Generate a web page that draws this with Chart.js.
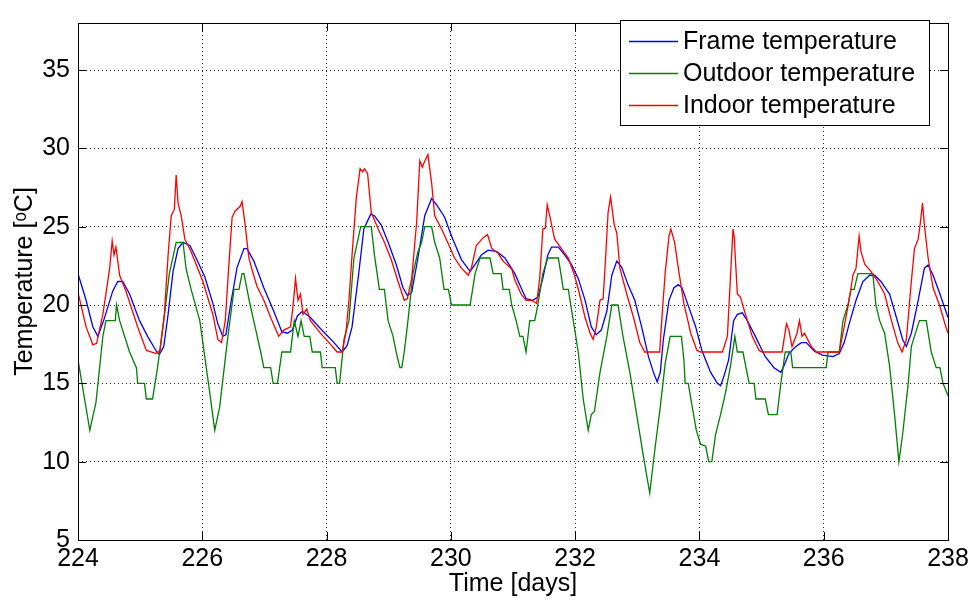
<!DOCTYPE html>
<html lang="en">
<head>
    <meta charset="UTF-8">
    <title>Temperatures</title>
    <script src="https://cdn.jsdelivr.net/npm/chart.js"></script>
    <style>
        html, body { margin: 0; padding: 0; background: #fff; }
        #box { position: relative; width: 974px; height: 602px; }
    </style>
</head>
<body>
    <div id="box"><canvas id="myChart" width="974" height="602"></canvas></div>
</body>
</html>
<script>
// tick labels
var xTicks = [224, 226, 228, 230, 232, 234, 236, 238];
var yTicks = [5, 10, 15, 20, 25, 30, 35];

var seriesNames = ['Frame temperature', 'Outdoor temperature', 'Indoor temperature'];

// Frame temperature (blue)
var frameDays = [224.00, 224.13, 224.24, 224.32, 224.42, 224.56, 224.64, 224.72, 224.83, 224.99,
  225.12, 225.26, 225.31, 225.38, 225.45, 225.53, 225.61, 225.69, 225.80, 225.90,
  226.04, 226.17, 226.25, 226.33, 226.38, 226.45, 226.56, 226.67, 226.72, 226.83,
  226.99, 227.15, 227.28, 227.37, 227.45, 227.53, 227.61, 227.74, 227.90, 228.12,
  228.25, 228.33, 228.41, 228.52, 228.60, 228.71, 228.77, 228.88, 228.99, 229.12,
  229.23, 229.30, 229.37, 229.47, 229.58, 229.69, 229.77, 229.90, 230.01, 230.17,
  230.31, 230.39, 230.49, 230.60, 230.74, 230.87, 231.03, 231.13, 231.21, 231.32,
  231.40, 231.48, 231.56, 231.62, 231.73, 231.83, 231.94, 232.05, 232.16, 232.26,
  232.34, 232.42, 232.51, 232.59, 232.67, 232.75, 232.85, 232.96, 233.07, 233.18,
  233.26, 233.32, 233.37, 233.42, 233.51, 233.59, 233.66, 233.72, 233.83, 233.94,
  234.04, 234.18, 234.29, 234.34, 234.39, 234.47, 234.55, 234.61, 234.69, 234.77,
  234.90, 235.06, 235.20, 235.31, 235.36, 235.44, 235.55, 235.64, 235.72, 235.85,
  235.98, 236.15, 236.25, 236.33, 236.41, 236.52, 236.63, 236.74, 236.82, 236.92,
  237.06, 237.17, 237.27, 237.33, 237.41, 237.52, 237.62, 237.68, 237.76, 237.87, 238.00];
var frameTemp = [22.0, 20.3, 18.6, 18.0, 19.1, 20.9, 21.5, 21.5, 20.7, 19.0,
  18.0, 17.05, 16.85, 17.35, 19.4, 22.15, 23.6, 24.0, 23.8, 23.0,
  21.8, 20.1, 18.8, 18.0, 18.1, 19.9, 22.4, 23.6, 23.6, 22.8,
  21.1, 19.6, 18.3, 18.2, 18.4, 19.3, 19.6, 19.2, 18.5, 17.6,
  17.0, 17.4, 18.6, 22.1, 24.85, 25.8, 25.7, 25.1, 24.0, 22.6,
  21.1, 20.6, 20.8, 23.0, 25.7, 26.8, 26.4, 25.6, 24.4, 22.9,
  22.15, 22.6, 23.2, 23.5, 23.4, 23.0, 22.0, 21.1, 20.4, 20.3,
  20.5, 21.7, 23.2, 23.7, 23.7, 23.2, 22.6, 21.7, 20.3, 18.6,
  18.1, 18.4, 19.6, 21.9, 22.8, 22.4, 21.3, 20.3, 18.6, 16.7,
  15.7, 15.1, 15.7, 17.8, 20.3, 21.1, 21.3, 21.1, 19.85, 18.6,
  17.1, 15.7, 15.0, 14.85, 15.4, 16.5, 19.0, 19.4, 19.5, 19.0,
  18.0, 16.7, 16.0, 15.7, 16.1, 16.9, 17.35, 17.6, 17.6, 17.05,
  16.8, 16.7, 16.9, 17.6, 18.8, 20.3, 21.5, 21.9, 21.9, 21.5,
  20.7, 19.2, 17.8, 17.35, 18.2, 20.3, 22.35, 22.55, 21.9, 20.7, 19.2];

// Outdoor temperature (green)
var outdoorDays = [224.00, 224.19, 224.29, 224.40, 224.45, 224.60, 224.62, 224.67, 224.75, 224.83,
  224.94, 224.96, 225.07, 225.10, 225.20, 225.28, 225.38, 225.47, 225.58, 225.69,
  225.74, 225.82, 225.96, 226.04, 226.12, 226.20, 226.28, 226.40, 226.51, 226.59,
  226.64, 226.67, 226.72, 226.77, 226.85, 226.94, 226.99, 227.10, 227.14, 227.21,
  227.28, 227.42, 227.48, 227.54, 227.59, 227.64, 227.73, 227.77, 227.90, 227.93,
  228.14, 228.17, 228.21, 228.28, 228.36, 228.44, 228.55, 228.72, 228.77, 228.85,
  228.93, 228.99, 229.07, 229.12, 229.18, 229.21, 229.25, 229.31, 229.39, 229.47,
  229.53, 229.58, 229.69, 229.74, 229.82, 229.89, 229.96, 230.01, 230.31, 230.39,
  230.47, 230.63, 230.68, 230.81, 230.84, 230.94, 230.98, 231.05, 231.11, 231.16,
  231.21, 231.27, 231.35, 231.40, 231.48, 231.56, 231.73, 231.81, 231.89, 231.97,
  232.05, 232.13, 232.21, 232.26, 232.31, 232.40, 232.51, 232.59, 232.69, 232.77,
  232.88, 232.99, 233.10, 233.20, 233.29, 233.37, 233.45, 233.53, 233.71, 233.75,
  233.77, 233.82, 233.88, 233.95, 234.02, 234.10, 234.15, 234.20, 234.26, 234.34,
  234.42, 234.50, 234.57, 234.61, 234.70, 234.80, 234.88, 234.91, 235.06, 235.11,
  235.25, 235.31, 235.38, 235.47, 235.50, 236.04, 236.07, 236.25, 236.31, 236.39,
  236.44, 236.49, 236.55, 236.79, 236.84, 236.90, 236.98, 237.06, 237.14, 237.21,
  237.27, 237.36, 237.41, 237.46, 237.54, 237.65, 237.73, 237.81, 237.87, 237.92, 238.00];
var outdoorTemp = [16.5, 12.0, 13.8, 18.0, 19.0, 19.0, 20.0, 19.0, 18.0, 17.0,
  16.0, 15.0, 15.0, 14.0, 14.0, 16.0, 19.0, 22.0, 24.0, 24.0,
  22.3, 21.0, 19.0, 16.7, 14.4, 12.0, 13.5, 17.6, 21.0, 21.0,
  22.0, 22.0, 21.0, 20.0, 18.6, 17.0, 16.0, 16.0, 15.0, 15.0,
  17.0, 17.0, 19.0, 18.0, 19.0, 18.0, 18.0, 17.0, 17.0, 16.0,
  16.0, 15.0, 15.0, 17.8, 19.0, 23.0, 25.0, 25.0, 23.2, 21.0,
  21.0, 19.0, 18.0, 17.0, 16.0, 16.0, 17.0, 19.0, 22.0, 23.4,
  24.0, 25.0, 25.0, 24.0, 23.0, 21.0, 21.0, 20.0, 20.0, 22.0,
  23.0, 23.0, 22.0, 22.0, 21.0, 21.0, 20.0, 19.0, 18.0, 18.0,
  17.0, 19.0, 19.0, 20.0, 22.0, 23.0, 23.0, 21.0, 21.0, 19.0,
  17.0, 14.0, 12.0, 13.0, 13.2, 15.7, 18.0, 20.0, 20.0, 18.0,
  15.7, 13.0, 10.3, 8.0, 11.0, 13.5, 16.3, 18.0, 18.0, 16.5,
  15.0, 15.0, 13.6, 12.0, 11.1, 11.0, 10.0, 10.0, 11.75, 13.0,
  14.4, 16.1, 18.0, 17.0, 17.0, 15.0, 15.0, 14.0, 14.0, 13.0,
  13.0, 15.0, 17.0, 17.0, 16.0, 16.0, 17.0, 17.0, 19.0, 20.0,
  21.0, 21.0, 22.0, 22.0, 20.0, 19.0, 18.2, 16.1, 13.0, 10.0,
  11.75, 15.0, 17.35, 18.0, 19.0, 19.0, 17.0, 16.0, 16.0, 15.0, 14.2];

// Indoor temperature (red)
var indoorDays = [224.00, 224.13, 224.24, 224.30, 224.40, 224.51, 224.55, 224.58, 224.61, 224.67,
  224.77, 224.96, 225.10, 225.26, 225.32, 225.39, 225.45, 225.50, 225.55, 225.58,
  225.61, 225.66, 225.72, 225.82, 226.01, 226.17, 226.25, 226.31, 226.37, 226.42,
  226.48, 226.53, 226.61, 226.64, 226.69, 226.75, 226.80, 226.88, 226.99, 227.10,
  227.23, 227.31, 227.42, 227.46, 227.50, 227.54, 227.58, 227.62, 227.68, 227.74,
  227.90, 228.06, 228.17, 228.25, 228.31, 228.36, 228.41, 228.48, 228.54, 228.58,
  228.61, 228.66, 228.70, 228.72, 228.83, 228.93, 229.04, 229.15, 229.25, 229.30,
  229.37, 229.45, 229.50, 229.54, 229.57, 229.63, 229.69, 229.74, 229.85, 229.96,
  230.06, 230.17, 230.28, 230.33, 230.41, 230.52, 230.59, 230.66, 230.76, 230.84,
  230.98, 231.03, 231.13, 231.21, 231.30, 231.38, 231.43, 231.48, 231.52, 231.55,
  231.59, 231.67, 231.78, 231.89, 231.99, 232.07, 232.16, 232.24, 232.29, 232.34,
  232.40, 232.45, 232.49, 232.53, 232.57, 232.63, 232.67, 232.72, 232.83, 232.94,
  233.04, 233.12, 233.36, 233.40, 233.45, 233.51, 233.54, 233.60, 233.67, 233.75,
  233.86, 233.96, 234.02, 234.37, 234.45, 234.48, 234.54, 234.56, 234.61, 234.66,
  234.74, 234.85, 234.96, 235.01, 235.33, 235.40, 235.44, 235.49, 235.57, 235.61,
  235.65, 235.69, 235.80, 235.88, 236.25, 236.31, 236.39, 236.44, 236.47, 236.52,
  236.57, 236.60, 236.66, 236.76, 236.87, 236.98, 237.09, 237.19, 237.26, 237.33,
  237.41, 237.46, 237.52, 237.55, 237.59, 237.62, 237.68, 237.76, 237.87, 237.95, 238.00];
var indoorTemp = [20.8, 18.6, 17.46, 17.55, 19.4, 22.35, 24.1, 23.2, 23.7, 21.9,
  20.9, 18.6, 17.1, 16.9, 17.1, 19.4, 23.2, 25.7, 26.1, 28.3,
  26.5, 25.7, 24.2, 23.4, 21.5, 19.4, 17.8, 17.6, 19.0, 22.1,
  25.6, 26.0, 26.3, 26.6, 25.1, 23.0, 22.25, 21.2, 20.3, 19.2,
  18.0, 18.4, 18.6, 19.9, 21.7, 20.3, 20.7, 19.4, 19.75, 19.0,
  18.2, 17.5, 17.0, 17.0, 18.2, 20.3, 23.2, 26.9, 28.7, 28.5,
  28.7, 28.4, 26.7, 25.9, 24.85, 24.0, 22.9, 21.5, 20.3, 20.4,
  21.7, 25.3, 29.2, 28.8, 29.1, 29.6, 27.8, 25.7, 24.85, 23.9,
  23.0, 22.35, 21.9, 22.35, 23.8, 24.3, 24.5, 23.6, 23.3, 22.8,
  22.3, 21.6, 20.7, 20.3, 20.3, 20.1, 21.7, 24.85, 24.9, 26.4,
  25.7, 24.2, 23.6, 23.0, 21.9, 20.7, 19.2, 18.2, 17.8, 18.6,
  20.3, 20.4, 23.0, 25.9, 26.9, 25.1, 24.6, 22.35, 20.7, 19.2,
  17.6, 17.0, 17.0, 19.4, 22.1, 24.4, 24.85, 24.0, 22.1, 20.1,
  18.2, 17.1, 17.0, 17.0, 18.0, 20.3, 24.85, 24.3, 20.7, 20.5,
  19.4, 18.0, 17.1, 17.0, 17.0, 18.8, 18.4, 17.35, 18.2, 19.0,
  18.0, 18.2, 17.35, 17.0, 17.0, 18.2, 19.9, 21.1, 21.9, 22.35,
  24.4, 23.4, 22.6, 22.15, 21.5, 20.7, 19.0, 17.6, 17.0, 17.8,
  21.5, 23.6, 24.2, 25.1, 26.5, 25.1, 23.0, 21.1, 19.9, 18.8, 18.2];

var lineColors = ['rgb(0, 0, 255)', 'rgb(0, 128, 0)', 'rgb(255, 0, 0)'];
var fontName = '"Liberation Sans", Arial, sans-serif';

function toPoints(days, temps) {
    var pts = [];
    for (var i = 0; i < days.length; i++) {
        pts.push({ x: days[i], y: temps[i] });
    }
    return pts;
}

// box round the axes, inward ticks and the legend, drawn like matlab does
var matlabBox = {
    id: 'matlabBox',
    afterDraw: function (chart) {
        var ctx = chart.ctx;
        var a = chart.chartArea;
        var xs = chart.scales.x;
        var ys = chart.scales.y;
        var tl = 8;
        ctx.save();
        ctx.strokeStyle = '#000';
        ctx.lineWidth = 1;
        ctx.beginPath();
        for (var i = 0; i < xTicks.length; i++) {
            var px = Math.round(xs.getPixelForValue(xTicks[i])) + 0.5;
            ctx.moveTo(px, a.bottom); ctx.lineTo(px, a.bottom - tl);
            ctx.moveTo(px, a.top); ctx.lineTo(px, a.top + tl);
        }
        for (var j = 0; j < yTicks.length; j++) {
            var py = Math.round(ys.getPixelForValue(yTicks[j])) + 0.5;
            ctx.moveTo(a.left, py); ctx.lineTo(a.left + tl, py);
            ctx.moveTo(a.right, py); ctx.lineTo(a.right - tl, py);
        }
        ctx.stroke();
        ctx.strokeRect(Math.round(a.left) + 0.5, Math.round(a.top) + 0.5,
            Math.round(a.right - a.left), Math.round(a.bottom - a.top));

        // legend
        var lx = 620.5, ly = 20.5, lw = 309, lh = 105;
        ctx.fillStyle = '#fff';
        ctx.fillRect(lx, ly, lw, lh);
        ctx.strokeRect(lx, ly, lw, lh);
        ctx.font = '25px ' + fontName;
        ctx.textBaseline = 'middle';
        ctx.textAlign = 'left';
        var sets = chart.data.datasets;
        for (var k = 0; k < sets.length; k++) {
            var rowY = 41 + k * 32;
            ctx.strokeStyle = sets[k].borderColor;
            ctx.lineWidth = 1.3;
            ctx.beginPath();
            ctx.moveTo(629, rowY + 0.5);
            ctx.lineTo(678, rowY + 0.5);
            ctx.stroke();
            ctx.fillStyle = '#000';
            ctx.fillText(sets[k].label, 683, rowY + 1);
        }
        ctx.restore();
    }
};

var ctxLinha = document.getElementById('myChart');

var grafico = new Chart(ctxLinha, {
    type: 'line',
    data: {
        datasets: [{
            label: seriesNames[0],
            data: toPoints(frameDays, frameTemp),
            borderColor: lineColors[0],
            borderWidth: 1.3,
            pointRadius: 0,
            order: 2
        },
        {
            label: seriesNames[1],
            data: toPoints(outdoorDays, outdoorTemp),
            borderColor: lineColors[1],
            borderWidth: 1.3,
            pointRadius: 0,
            order: 1
        },
        {
            label: seriesNames[2],
            data: toPoints(indoorDays, indoorTemp),
            borderColor: lineColors[2],
            borderWidth: 1.3,
            pointRadius: 0,
            order: 0
        }]
    },
    options: {
        responsive: false,
        animation: false,
        devicePixelRatio: 1,
        layout: { padding: { left: 0, top: 10, right: 26, bottom: 0 } },
        plugins: {
            legend: { display: false },
            tooltip: { enabled: false }
        },
        scales: {
            x: {
                type: 'linear',
                min: 224,
                max: 238,
                afterBuildTicks: function (scale) {
                    scale.ticks = xTicks.map(function (v) { return { value: v }; });
                },
                afterFit: function (scale) { scale.height = 62; },
                grid: { color: 'rgba(0,0,0,0.85)', lineWidth: 1, drawTicks: false },
                border: { display: false, dash: [1, 3] },
                ticks: {
                    color: '#000',
                    font: { family: fontName, size: 25 },
                    padding: 4,
                    maxRotation: 0,
                    autoSkip: false
                },
                title: {
                    display: true,
                    text: 'Time [days]',
                    color: '#000',
                    font: { family: fontName, size: 25 },
                    padding: { top: 0, bottom: 3 }
                }
            },
            y: {
                type: 'linear',
                min: 5,
                max: 38,
                afterBuildTicks: function (scale) {
                    scale.ticks = yTicks.map(function (v) { return { value: v }; });
                },
                afterFit: function (scale) { scale.width = 78; },
                grid: { color: 'rgba(0,0,0,0.85)', lineWidth: 1, drawTicks: false },
                border: { display: false, dash: [1, 3] },
                ticks: {
                    color: '#000',
                    font: { family: fontName, size: 25 },
                    padding: 8
                },
                title: {
                    display: true,
                    text: 'Temperature [ᵒC]',
                    color: '#000',
                    font: { family: fontName, size: 25 },
                    padding: { top: 10, bottom: 0 }
                }
            }
        }
    },
    plugins: [matlabBox]
});
</script>
